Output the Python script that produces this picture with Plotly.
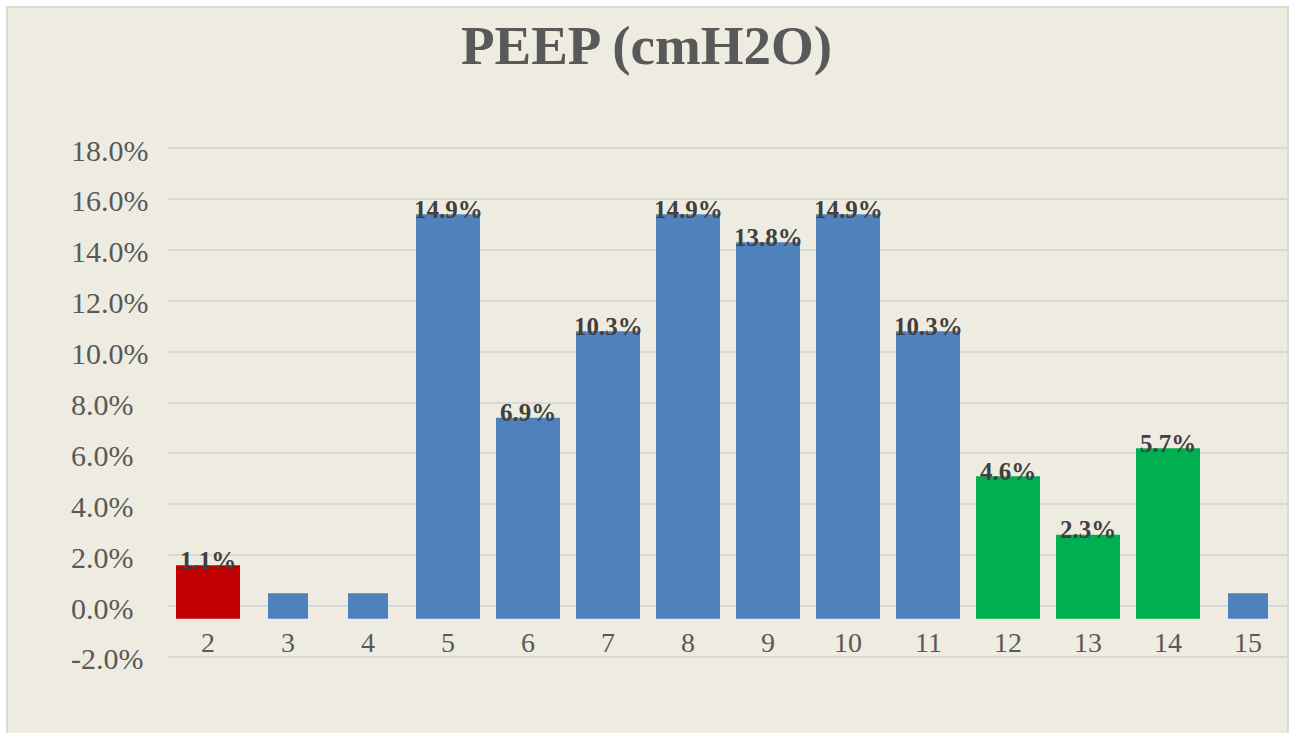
import plotly.graph_objects as go

# ---- data ----
categories = ["2", "3", "4", "5", "6", "7", "8", "9", "10", "11", "12", "13", "14", "15"]
values_pct = [1.1, 0.0, 0.0, 14.9, 6.9, 10.3, 14.9, 13.8, 14.9, 10.3, 4.6, 2.3, 5.7, 0.0]
bar_colors = ["#C00000"] + ["#4F81BD"] * 9 + ["#00B050"] * 3 + ["#4F81BD"]
y_ticks = [-0.02, 0.0, 0.02, 0.04, 0.06, 0.08, 0.10, 0.12, 0.14, 0.16, 0.18]
title_text = "PEEP (cmH2O)"

values = [v / 100 for v in values_pct]
pad = 0.005  # visual padding the reference bars carry above/below their value
widths = [0.5 if v == 0 else 0.8 for v in values]

W, H = 1293, 733
ML, MR, MT, MB = 168, 5, 143, 71
plot_w = W - ML - MR
plot_h = H - MT - MB
y_range = [-0.022, 0.182]

fig = go.Figure()
fig.add_trace(go.Bar(
    x=categories,
    y=[v + 2 * pad for v in values],
    base=[-pad] * len(values),
    width=widths,
    marker=dict(color=bar_colors, line=dict(width=0)),
    hoverinfo="skip",
))

annotations = []
# data labels
for i, v in enumerate(values):
    if v > 0:
        annotations.append(dict(
            x=i, y=v + pad, xref="x", yref="y",
            text=f"<b>{v*100:.1f}%</b>", showarrow=False,
            xanchor="center", yanchor="middle", yshift=5,
            font=dict(family="Liberation Serif", size=25, color="#404040"),
        ))
# y tick labels (left aligned, as in reference)
for t in y_ticks:
    annotations.append(dict(
        x=(69 - ML) / plot_w, y=t, xref="paper", yref="y",
        text=f"{t*100:.1f}%", showarrow=False,
        xanchor="left", yanchor="middle", yshift=-2,
        font=dict(family="Liberation Serif", size=30, color="#595959"),
    ))
# category labels
for i, c in enumerate(categories):
    annotations.append(dict(
        x=i, y=-0.0143, xref="x", yref="y",
        text=c, showarrow=False, xanchor="center", yanchor="middle",
        font=dict(family="Liberation Serif", size=28, color="#595959"),
    ))

fig.update_layout(
    width=W, height=H,
    margin=dict(l=ML, r=MR, t=MT, b=MB),
    paper_bgcolor="#FFFFFF",
    plot_bgcolor="rgba(0,0,0,0)",
    showlegend=False,
    bargap=0.2,
    title=dict(
        text=f"<b>{title_text}</b>",
        x=0.5, xref="container", xanchor="center",
        y=1 - 45 / H, yref="container", yanchor="middle",
        font=dict(family="Liberation Serif", size=55, color="#595959"),
    ),
    xaxis=dict(
        type="category", range=[-0.5, 13.5],
        showticklabels=False, showgrid=False, zeroline=False, showline=False,
        ticks="",
    ),
    yaxis=dict(
        range=y_range, tickvals=y_ticks,
        showticklabels=False, showgrid=True, gridcolor="#D8D8D6", gridwidth=1.5,
        zeroline=False, showline=False, ticks="",
    ),
    annotations=annotations,
    shapes=[dict(
        type="rect", xref="paper", yref="paper", layer="below",
        x0=(7 - ML) / plot_w, x1=(1288 - ML) / plot_w,
        y0=-(H + 10 - (MT + plot_h)) / plot_h, y1=(MT + plot_h - 7) / plot_h,
        fillcolor="#EEECE1", line=dict(color="#DCDAD4", width=2),
    )],
)

fig.write_html(
    "out.html",
    config={"displayModeBar": False},
    post_script="document.body.style.margin='0';document.body.style.overflow='hidden';",
)
